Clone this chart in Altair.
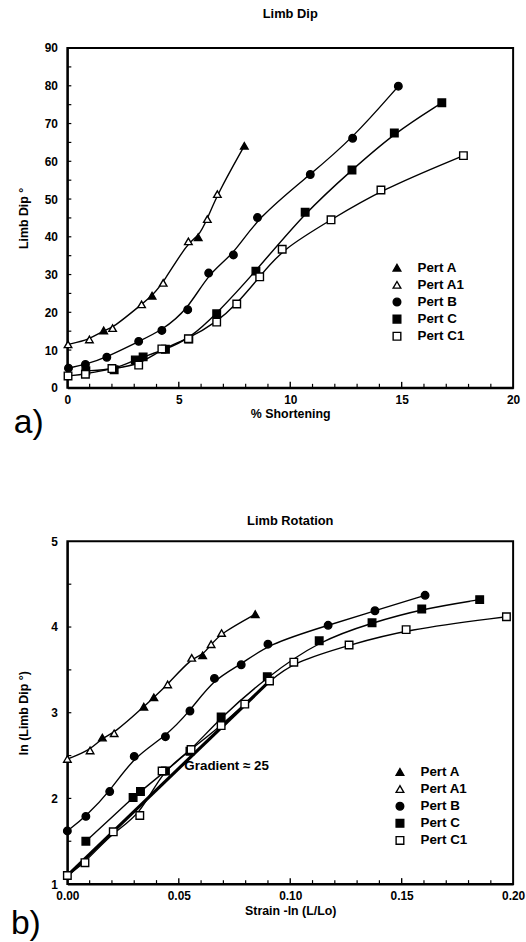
import altair as alt
import pandas as pd

FONT = "Liberation Sans"
SERIES = ["Pert A", "Pert A1", "Pert B", "Pert C", "Pert C1"]
SHAPES = ["triangle-up", "triangle-up", "circle", "square", "square"]
FILLS = ["black", "white", "black", "black", "white"]
STROKES = ["black", "black", "black", "black", "black"]

# ---------------- (a) Limb Dip vs % Shortening ----------------
a_A_x = [1.63, 3.8, 5.87, 7.94]
a_A_y = [15.2, 24.4, 39.9, 64.1]
a_A1_x = [0.03, 0.99, 2.03, 3.33, 4.3, 5.43, 6.28, 6.73]
a_A1_y = [11.5, 12.8, 15.8, 22.1, 27.8, 38.8, 44.7, 51.3]
a_B_x = [0.05, 0.81, 1.77, 3.2, 4.24, 5.4, 6.34, 7.45, 8.53, 10.9, 12.8, 14.85]
a_B_y = [5.2, 6.2, 8.1, 12.3, 15.2, 20.7, 30.4, 35.2, 45.1, 56.5, 66.1, 79.9]
a_C_x = [0.83, 2.1, 3.05, 3.4, 4.4, 5.45, 6.7, 8.46, 10.67, 12.77, 14.67, 16.8]
a_C_y = [4.5, 4.8, 7.4, 8.2, 10.2, 12.9, 19.6, 30.9, 46.5, 57.7, 67.5, 75.5]
a_C1_x = [0.03, 0.81, 2.0, 3.2, 4.24, 5.43, 6.7, 7.6, 8.63, 9.64, 11.83, 14.07, 17.77]
a_C1_y = [3.15, 3.6, 5.1, 6.0, 10.3, 13.0, 17.4, 22.2, 29.4, 36.7, 44.5, 52.4, 61.5]

# ---------------- (b) ln(Limb Dip) vs strain ----------------
b_A_x = [0.0157, 0.0343, 0.0388, 0.0607, 0.0843]
b_A_y = [2.71, 3.07, 3.18, 3.67, 4.15]
b_A1_x = [0.0, 0.0102, 0.021, 0.045, 0.0558, 0.0645, 0.0692]
b_A1_y = [2.46, 2.56, 2.76, 3.33, 3.64, 3.80, 3.93]
b_B_x = [0.0, 0.0083, 0.019, 0.03, 0.044, 0.055, 0.066, 0.078, 0.09, 0.117, 0.138, 0.1605]
b_B_y = [1.62, 1.79, 2.08, 2.49, 2.72, 3.02, 3.40, 3.56, 3.80, 4.02, 4.19, 4.37]
b_C_x = [0.0083, 0.0295, 0.0328, 0.044, 0.055, 0.069, 0.0897, 0.113, 0.1367, 0.159, 0.185]
b_C_y = [1.50, 2.01, 2.08, 2.32, 2.55, 2.95, 3.42, 3.84, 4.05, 4.21, 4.32]
b_C1_x = [0.0, 0.0079, 0.0206, 0.0325, 0.0425, 0.0555, 0.069, 0.0796, 0.0907, 0.1016, 0.1264, 0.152, 0.197]
b_C1_y = [1.10, 1.25, 1.61, 1.80, 2.32, 2.57, 2.85, 3.10, 3.37, 3.59, 3.79, 3.97, 4.12]

# regression line (gradient ~ 25) and its label
grad_x = [0.0, 0.09]
grad_y = [1.1, 3.35]
grad_label = ["Gradient \u2248 25"]
grad_label_x = [0.0525]
grad_label_y = [2.38]

# axis ticks
a_xticks_minor = [1, 2, 3, 4, 6, 7, 8, 9, 11, 12, 13, 14, 16, 17, 18, 19]
a_xticks_major = [5, 10, 15]
a_yticks = [5, 10, 15, 20, 25, 30, 35, 40, 45, 50, 55, 60, 65, 70, 75, 80, 85]
b_xticks_minor = [0.01, 0.02, 0.03, 0.04, 0.06, 0.07, 0.08, 0.09, 0.11, 0.12, 0.13, 0.14, 0.16, 0.17, 0.18, 0.19]
b_xticks_major = [0.05, 0.10, 0.15]
b_yticks = [1.5, 2, 2.5, 3, 3.5, 4, 4.5]


def frame(xs, ys):
    rows = []
    for name, xv, yv in zip(SERIES, xs, ys):
        curve = "A" if name in ("Pert A", "Pert A1") else name
        for x, y in zip(xv, yv):
            rows.append({"series": name, "curve": curve, "x": x, "y": y})
    return pd.DataFrame(rows)


def panel(df, title, toff, W, H, xdom, ydom, xvals, xfmt, yvals, xtitle, ytitle,
          ytitlepad, xtitlepad, xt_minor, xt_major, yt, letter, letx, lety, legx, legy,
          extra=None):
    xs = alt.Scale(domain=xdom, nice=False, zero=False)
    ys = alt.Scale(domain=ydom, nice=False, zero=False)
    xax = alt.Axis(values=xvals, format=xfmt, title=xtitle, ticks=False, grid=False,
                   labelFlush=False, labelOverlap=False, labelPadding=7, titlePadding=xtitlepad,
                   domainColor="black", domainWidth=2)
    yax = alt.Axis(values=yvals, format="d", title=ytitle, ticks=False, grid=False,
                   labelOverlap=False, labelPadding=10, titlePadding=ytitlepad,
                   domainColor="black", domainWidth=2)
    X = alt.X("x:Q", scale=xs, axis=xax)
    Y = alt.Y("y:Q", scale=ys, axis=yax)

    leg = alt.Legend(title=None, orient="none", legendX=legx, legendY=legy,
                     labelFont=FONT, labelFontSize=13.5, labelFontWeight="bold",
                     labelColor="black", symbolStrokeColor="black",
                     symbolStrokeWidth=1.4, symbolSize=60, labelOffset=14,
                     rowPadding=2.3, padding=0)

    lines = alt.Chart(df).mark_line(interpolate="basis", color="black",
                                    strokeWidth=1.4).encode(
        x=X, y=Y, detail="curve:N", order="x:Q")
    pts = alt.Chart(df).mark_point(filled=True, opacity=1, strokeWidth=1.4, size=58).encode(
        x=X, y=Y,
        shape=alt.Shape("series:N", scale=alt.Scale(domain=SERIES, range=SHAPES), legend=leg),
        fill=alt.Fill("series:N", scale=alt.Scale(domain=SERIES, range=FILLS), legend=leg),
        stroke=alt.Stroke("series:N", scale=alt.Scale(domain=SERIES, range=STROKES), legend=leg),
    )

    tx_minor = alt.Chart(pd.DataFrame({"x": xt_minor})).mark_rule(color="black", strokeWidth=1.2).encode(
        x=X, y=alt.value(H), y2=alt.value(H - 4))
    tx_major = alt.Chart(pd.DataFrame({"x": xt_major})).mark_rule(color="black", strokeWidth=1.4).encode(
        x=X, y=alt.value(H), y2=alt.value(H - 6))
    ty = alt.Chart(pd.DataFrame({"y": yt})).mark_rule(color="black", strokeWidth=1.2).encode(
        y=Y, x=alt.value(0), x2=alt.value(4))
    lab = alt.Chart(pd.DataFrame({"t": [letter]})).mark_text(
        font=FONT, fontSize=34, align="left", baseline="alphabetic", color="black").encode(
        text="t:N", x=alt.value(letx), y=alt.value(H + lety))

    layers = [tx_minor, tx_major, ty]
    if extra is not None:
        layers += extra(X, Y)
    layers += [lines, pts, lab]
    return alt.layer(*layers).properties(
        width=W, height=H,
        title=alt.TitleParams(title, font=FONT, fontSize=13, fontWeight="bold",
                              color="black", offset=toff))


def grad_layers(X, Y):
    gl = alt.Chart(pd.DataFrame({"x": grad_x, "y": grad_y})).mark_line(
        color="black", strokeWidth=3.2).encode(x=X, y=Y)
    gt = alt.Chart(pd.DataFrame({"x": grad_label_x, "y": grad_label_y, "t": grad_label})).mark_text(
        font=FONT, fontSize=13.5, fontWeight="bold", align="left", baseline="middle",
        color="black").encode(x=X, y=Y, text="t:N")
    return [gl, gt]


top = panel(frame([a_A_x, a_A1_x, a_B_x, a_C_x, a_C1_x], [a_A_y, a_A1_y, a_B_y, a_C_y, a_C1_y]),
            "Limb Dip", 21, 450, 343, [0, 20], [0, 90], [0, 5, 10, 15, 20], "d",
            [0, 10, 20, 30, 40, 50, 60, 70, 80, 90], "% Shortening", "Limb Dip \u00b0", 14, 1.5,
            a_xticks_minor, a_xticks_major, a_yticks, "a)", -54, 46, 326, 215)

bottom = panel(frame([b_A_x, b_A1_x, b_B_x, b_C_x, b_C1_x], [b_A_y, b_A1_y, b_B_y, b_C_y, b_C1_y]),
               "Limb Rotation", 8, 450, 346, [0, 0.2], [1, 5], [0, 0.05, 0.10, 0.15, 0.20], ".2f",
               [1, 2, 3, 4, 5], "Strain -ln (L/Lo)", "ln (Limb Dip \u00b0)", 21, 3,
               b_xticks_minor, b_xticks_major, b_yticks, "b)", -57, 50, 329, 226, extra=grad_layers)

chart = alt.vconcat(top, bottom, spacing=73).resolve_scale(
    shape="independent", fill="independent", stroke="independent",
    x="independent", y="independent"
).resolve_legend(shape="independent", fill="independent", stroke="independent").configure(
    padding={"left": 10, "top": 3, "right": 0, "bottom": 0}
).configure_view(stroke="black", strokeWidth=2).configure_axis(
    labelFont=FONT, labelFontSize=12, labelFontWeight="bold", labelColor="black",
    titleFont=FONT, titleFontSize=12.5, titleFontWeight="bold", titleColor="black"
).configure_title(anchor="middle")

chart.save("out.html", embed_options={"renderer": "svg", "actions": False})
